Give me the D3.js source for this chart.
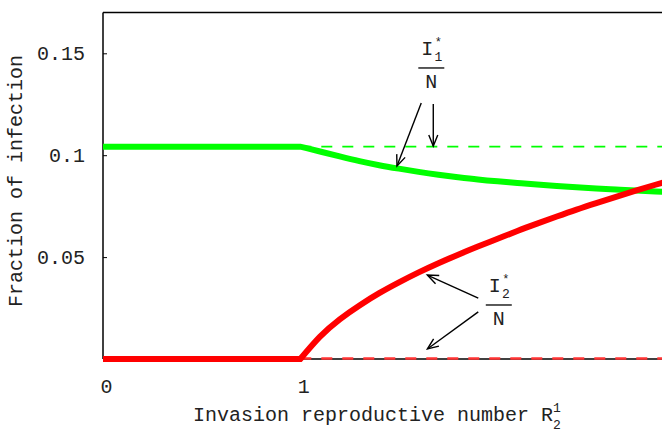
<!DOCTYPE html>
<html>
<head>
<meta charset="utf-8">
<script src="https://cdn.jsdelivr.net/npm/d3@7"></script>
<style>
  body { margin: 0; background: #fff; }
  svg { display: block; }
  text { font-family: "Liberation Mono", "DejaVu Sans Mono", monospace; fill: #222; }
</style>
</head>
<body>
<svg id="chart" width="662" height="433"></svg>
<script>
// values
const xTicks = [0, 1]
const yTicks = [0.05, 0.1, 0.15]
const plateau = 0.1042 // I1*/N before the invasion threshold

// below R = 1 both curves are flat
const flatX = [0, 1]
const i1Flat = [plateau, plateau]
const i2Flat = [0, 0]

// above R = 1
const curveX = [1, 1.1, 1.2, 1.3, 1.4, 1.5, 1.6, 1.7, 1.8, 1.9, 2.0, 2.1, 2.2, 2.3, 2.4, 2.5, 2.6, 2.7, 2.8, 2.9]
const i1Y = [0.1042, 0.1018, 0.0994, 0.0971, 0.0951, 0.0934, 0.0918, 0.0904, 0.0892, 0.0881,
             0.0872, 0.0864, 0.0856, 0.0849, 0.0843, 0.0837, 0.0832, 0.0827, 0.0822, 0.0818]
const i2Y = [0, 0.0110, 0.0195, 0.0263, 0.0323, 0.0376, 0.0425, 0.0470, 0.0512, 0.0552,
             0.0590, 0.0628, 0.0664, 0.0699, 0.0733, 0.0765, 0.0796, 0.0826, 0.0855, 0.0883]

// dashed reference levels from R = 1 on
const refX = [1, 2.9]
const i1Ref = [plateau, plateau]
const i2Ref = [0, 0]

const svg = d3.select("#chart")
const left = 103, bottom = 359
const xMax = 2.9, yMax = 0.17

const x = d3.scaleLinear().domain([0, xMax]).range([left, left + xMax * 197.3])
const y = d3.scaleLinear().domain([0, yMax]).range([bottom, bottom - yMax * 2038])

const zip = (a, b) => a.map((v, i) => [v, b[i]])
const straight = d3.line().x(d => x(d[0])).y(d => y(d[1]))
const smooth = d3.line().x(d => x(d[0])).y(d => y(d[1])).curve(d3.curveNatural)

// one path: flat piece, then the smooth piece, so the kink at R=1 stays sharp
const joined = (flat, curve) =>
  straight(zip(flatX, flat)) + smooth(zip(curveX, curve)).replace(/^M[^LC]*/, "")

// frame: top, left, bottom
svg.append("line")
  .attr("x1", x(0)).attr("x2", x(xMax))
  .attr("y1", y(yMax)).attr("y2", y(yMax))
  .attr("stroke", "#000").attr("stroke-width", 1.5)

const yAxis = svg.append("g")
  .attr("transform", `translate(${left},0)`)
  .call(d3.axisLeft(y).tickValues(yTicks).tickSize(-4).tickSizeOuter(0).tickPadding(18)
    .tickFormat(d => String(d)))
yAxis.select(".domain").remove()
yAxis.selectAll("text").style("font-size", "20px").attr("font-family", null)
yAxis.selectAll("line").attr("stroke", "#000")

svg.append("line")
  .attr("x1", left).attr("x2", left)
  .attr("y1", y(yMax)).attr("y2", y(0))
  .attr("stroke", "#000").attr("stroke-width", 1.5)

const xAxis = svg.append("g")
  .attr("transform", `translate(0,${bottom})`)
  .call(d3.axisBottom(x).tickValues(xTicks).tickSize(0).tickSizeOuter(0).tickFormat(d => String(d)))
xAxis.select(".domain").remove()
xAxis.selectAll("text")
  .attr("y", 34).attr("dy", 0).attr("dx", 3)
  .style("font-size", "20px").attr("font-family", null)

svg.append("line")
  .attr("x1", x(0)).attr("x2", x(xMax))
  .attr("y1", y(0)).attr("y2", y(0))
  .attr("stroke", "#000").attr("stroke-width", 1.5)

// dashed reference levels
svg.append("path")
  .attr("d", straight(zip(refX, i1Ref)))
  .attr("fill", "none")
  .attr("stroke", "#00ff00")
  .attr("stroke-width", 1.8)
  .attr("stroke-dasharray", "11,10")

svg.append("path")
  .attr("d", straight(zip(refX, i2Ref)))
  .attr("fill", "none")
  .attr("stroke", "#ff3333")
  .attr("stroke-width", 2.5)
  .attr("stroke-dasharray", "11,10")
  .attr("transform", "translate(0,-0.5)")

// solid curves
svg.append("path")
  .attr("d", joined(i1Flat, i1Y))
  .attr("fill", "none")
  .attr("stroke", "#00ff00")
  .attr("stroke-width", 6)

svg.append("path")
  .attr("d", joined(i2Flat, i2Y))
  .attr("fill", "none")
  .attr("stroke", "#ff0000")
  .attr("stroke-width", 6)

// arrow head
svg.append("defs").append("marker")
  .attr("id", "arrow")
  .attr("markerUnits", "userSpaceOnUse")
  .attr("viewBox", "-12 -6 14 12")
  .attr("refX", 0).attr("refY", 0)
  .attr("markerWidth", 14).attr("markerHeight", 12)
  .attr("orient", "auto")
  .append("path")
  .attr("d", "M-11,-4.5L0,0L-11,4.5")
  .attr("fill", "none")
  .attr("stroke", "#000")
  .attr("stroke-width", 1.4)

function fraction(cx, cy, sub) {
  const g = svg.append("g")
  const px = x(cx), py = y(cy)
  g.append("text").attr("x", px - 4).attr("y", py - 13)
    .attr("text-anchor", "middle").style("font-size", "20px").text("I")
  g.append("text").attr("x", px + 7).attr("y", py - 22)
    .attr("text-anchor", "middle").style("font-size", "12px").text("*")
  g.append("text").attr("x", px + 7).attr("y", py - 7)
    .attr("text-anchor", "middle").style("font-size", "13px").text(sub)
  g.append("line")
    .attr("x1", px - 13).attr("x2", px + 13)
    .attr("y1", py).attr("y2", py)
    .attr("stroke", "#000").attr("stroke-width", 1.3)
  g.append("text").attr("x", px).attr("y", py + 20)
    .attr("text-anchor", "middle").style("font-size", "20px").text("N")
}

function arrow(x1, y1, x2, y2) {
  svg.append("line")
    .attr("x1", x(x1)).attr("y1", y(y1))
    .attr("x2", x(x2)).attr("y2", y(y2))
    .attr("stroke", "#000").attr("stroke-width", 1.4)
    .attr("marker-end", "url(#arrow)")
}

fraction(1.664, 0.1428, "1")
arrow(1.613, 0.1256, 1.49, 0.0947)
arrow(1.674, 0.1251, 1.674, 0.1045)

fraction(2.006, 0.0265, "2")
arrow(1.902, 0.0299, 1.644, 0.0412)
arrow(1.902, 0.0231, 1.644, 0.0049)

// axis titles
const xt = svg.append("text")
  .attr("x", 193).attr("y", 421)
  .style("font-size", "20px")
xt.append("tspan").text("Invasion reproductive number R")
xt.append("tspan").attr("dy", -9).style("font-size", "13px").text("1")
xt.append("tspan").attr("dx", -8).attr("dy", 17).style("font-size", "13px").text("2")

svg.append("text")
  .attr("transform", "translate(22,181) rotate(-90)")
  .attr("text-anchor", "middle")
  .style("font-size", "20px")
  .text("Fraction of infection")
</script>
</body>
</html>
